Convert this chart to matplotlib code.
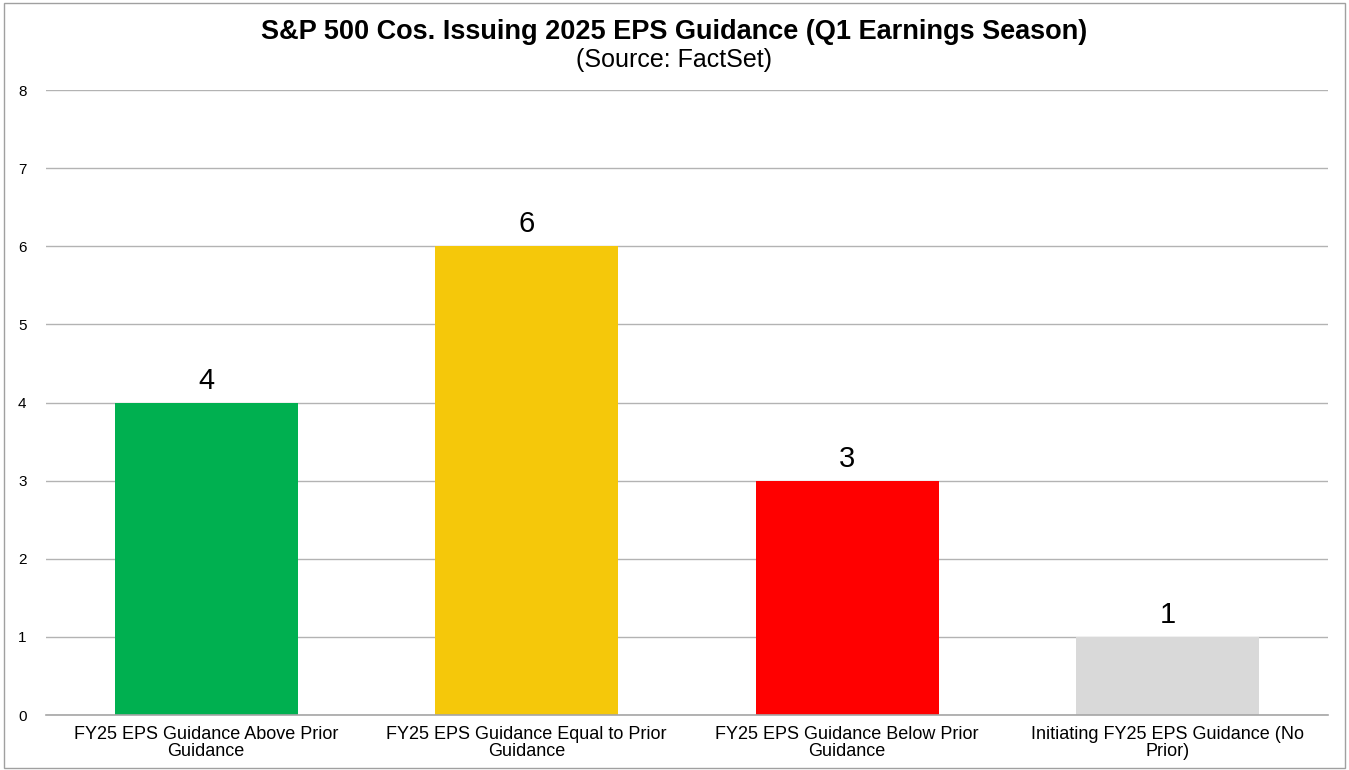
import numpy as np
import matplotlib
matplotlib.use('Agg')
import matplotlib.pyplot as plt
from matplotlib.patches import Rectangle

categories = ["FY25 EPS Guidance Above Prior\nGuidance",
              "FY25 EPS Guidance Equal to Prior\nGuidance",
              "FY25 EPS Guidance Below Prior\nGuidance",
              "Initiating FY25 EPS Guidance (No\nPrior)"]
values = [4, 6, 3, 1]
colors = ["#00B050", "#F5C80A", "#FF0000", "#D9D9D9"]
yticks = [0, 1, 2, 3, 4, 5, 6, 7, 8]

plt.rcParams['font.family'] = ['Liberation Sans', 'DejaVu Sans']

fig = plt.figure(figsize=(13.49, 7.7), dpi=100)
ax = fig.add_axes([0.0341, 0.0714, 0.9503, 0.8117])

x = np.arange(len(values))
bars = ax.bar(x, values, width=0.57, color=colors, zorder=2)
for xi, v in zip(x, values):
    ax.text(xi, v + 0.1, str(v), ha='center', va='bottom', fontsize=21)

ax.set_xlim(-0.5, len(values) - 0.5)
ax.set_ylim(0, 8)
ax.set_yticks(yticks)
ax.set_yticklabels([str(t) for t in yticks], fontsize=11)
ax.set_xticks(x)
ax.set_xticklabels(categories, fontsize=13, linespacing=1.02)
ax.tick_params(axis='both', length=0, pad=8)
ax.tick_params(axis='y', pad=14)
ax.grid(axis='y', color='#B3B3B3', linewidth=1, zorder=0)
for s in ['top', 'right', 'left']:
    ax.spines[s].set_visible(False)
ax.spines['bottom'].set_color('#A6A6A6')
ax.spines['bottom'].set_linewidth(1.2)

fig.text(0.5, 0.958, "S&P 500 Cos. Issuing 2025 EPS Guidance (Q1 Earnings Season)",
         ha='center', va='center', fontsize=19.5, fontweight='bold')
fig.text(0.5, 0.922, "(Source: FactSet)", ha='center', va='center', fontsize=18)

fig.patches.append(Rectangle((0.003, 0.003), 0.994, 0.993, transform=fig.transFigure,
                             fill=False, edgecolor='#A0A0A0', linewidth=1))

plt.savefig("out.png", dpi=100)
